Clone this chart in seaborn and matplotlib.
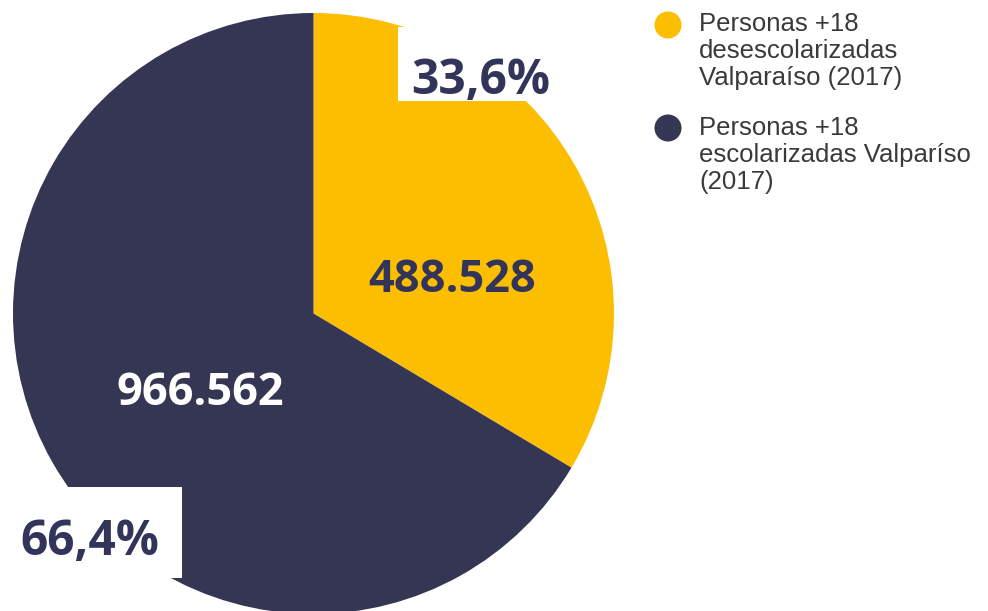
import seaborn as sns
import matplotlib.pyplot as plt
from matplotlib.patches import Rectangle

# data
categories = ["Personas +18\ndesescolarizadas\nValparaíso (2017)",
              "Personas +18\nescolarizadas Valparíso\n(2017)"]
values = [488528, 966562]
value_labels = ["488.528", "966.562"]
pct_labels = ["33,6%", "66,4%"]
colors = ["#FBBE00", "#353554"]
navy_text = "#33345A"

sns.set_theme(style="white")
plt.rcParams["font.family"] = ["Liberation Sans", "DejaVu Sans"]

W, H = 988, 611
fig = plt.figure(figsize=(W / 100, H / 100), dpi=100)
fig.patch.set_facecolor("white")

# pie, radius 1 in a square axes
ax = fig.add_axes([13 / W, (H - 614) / H, 601 / W, 601 / H])
ax.pie(values, colors=colors, startangle=90, counterclock=False,
       radius=1.0, wedgeprops=dict(linewidth=0))
ax.set_xlim(-1, 1)
ax.set_ylim(-1, 1)
ax.axis("off")

# overlay in pixel coordinates for labels
ov = fig.add_axes([0, 0, 1, 1])
ov.set_xlim(0, W)
ov.set_ylim(H, 0)
ov.axis("off")

# value labels inside slices
vfont = dict(family="Open Sans", fontweight="bold", fontsize=32.5)
ov.text(452, 292, value_labels[0], color=navy_text, ha="center", va="baseline", **vfont)
ov.text(200, 405, value_labels[1], color="white", ha="center", va="baseline", **vfont)

# percentage labels on white boxes
pfont = dict(family="Open Sans", fontweight="bold", fontsize=34.5)
ov.add_patch(Rectangle((398, 27), 160, 74, facecolor="white", edgecolor="none"))
ov.text(481, 94, pct_labels[0], color=navy_text, ha="center", va="baseline", **pfont)
ov.add_patch(Rectangle((0, 487), 182, 91, facecolor="white", edgecolor="none"))
ov.text(90, 555, pct_labels[1], color=navy_text, ha="center", va="baseline", **pfont)

# legend
for i, (lab, c) in enumerate(zip(categories, colors)):
    ov.scatter([668], [25 + i * 103], s=27 ** 2 * 0.52, color=c, edgecolor="none")
    ov.text(699, 12 + i * 104, lab, color="#3a3a3a", fontsize=18.5, ha="left",
            va="top", linespacing=1.16)

fig.savefig("out.png", dpi=100)
